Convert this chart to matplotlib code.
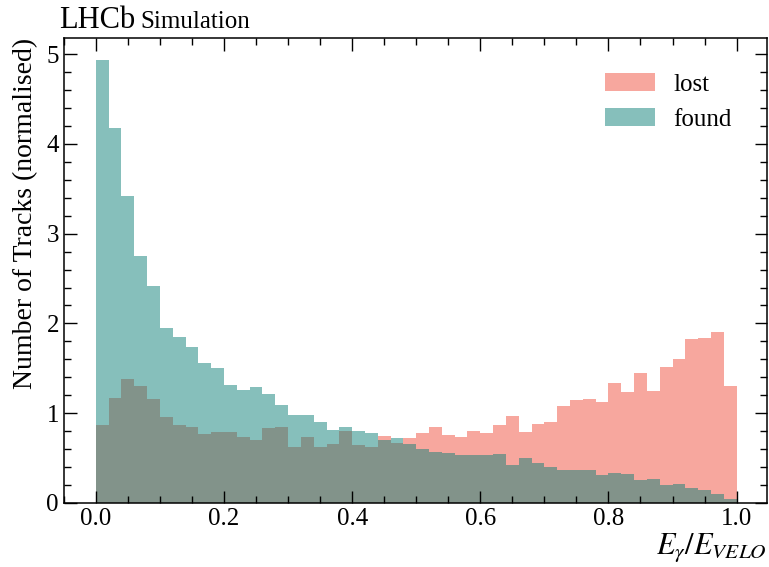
import matplotlib
matplotlib.use("Agg")
import matplotlib.pyplot as plt
import numpy as np

# bin contents (50 bins over [0, 1])
bin_edges = np.linspace(0, 1, 51)

lost = [0.87, 1.17, 1.38, 1.30, 1.16, 0.96, 0.87, 0.85, 0.77, 0.79,
        0.79, 0.74, 0.70, 0.84, 0.85, 0.62, 0.73, 0.62, 0.66, 0.80,
        0.65, 0.62, 0.75, 0.67, 0.72, 0.78, 0.85, 0.76, 0.73, 0.80,
        0.78, 0.87, 0.97, 0.79, 0.88, 0.90, 1.08, 1.15, 1.16, 1.13,
        1.34, 1.24, 1.45, 1.25, 1.51, 1.60, 1.83, 1.84, 1.90, 1.30]

found = [4.93, 4.18, 3.42, 2.75, 2.42, 1.95, 1.85, 1.74, 1.56, 1.50,
         1.31, 1.26, 1.29, 1.21, 1.09, 0.98, 0.98, 0.90, 0.81, 0.85,
         0.80, 0.78, 0.70, 0.72, 0.66, 0.60, 0.57, 0.56, 0.53, 0.53,
         0.53, 0.55, 0.42, 0.50, 0.45, 0.40, 0.37, 0.37, 0.37, 0.31,
         0.33, 0.32, 0.26, 0.27, 0.20, 0.21, 0.17, 0.14, 0.10, 0.04]

plt.rcParams['font.family'] = ['Liberation Serif', 'DejaVu Serif']
plt.rcParams['mathtext.fontset'] = 'stix'
plt.rcParams['xtick.direction'] = 'in'
plt.rcParams['ytick.direction'] = 'in'
plt.rcParams['xtick.top'] = True
plt.rcParams['ytick.right'] = True
plt.rcParams['xtick.minor.visible'] = True
plt.rcParams['ytick.minor.visible'] = True

fig = plt.figure(figsize=(7.69, 5.67), dpi=100)
ax = fig.add_axes([0.083, 0.113, 0.914, 0.820])

ax.stairs(lost, bin_edges, fill=True, color='#f0503e', alpha=0.5, label='lost')
ax.stairs(found, bin_edges, fill=True, color='#0f8078', alpha=0.5, label='found')

ax.set_xlim(-0.05, 1.047)
ax.set_ylim(0, 5.18)
ax.set_xticks([0.0, 0.2, 0.4, 0.6, 0.8, 1.0])
ax.xaxis.set_minor_locator(matplotlib.ticker.MultipleLocator(0.05))
ax.yaxis.set_minor_locator(matplotlib.ticker.MultipleLocator(0.2))
ax.tick_params(which='major', length=9, width=1.0, labelsize=18)
ax.tick_params(which='minor', length=5, width=1.0)
for s in ax.spines.values():
    s.set_linewidth(1.1)

ax.set_xlabel(r'$E_{\gamma}/E_{VELO}$', fontsize=22, loc='right', labelpad=1)
ax.set_ylabel('Number of Tracks (normalised)', fontsize=20, loc='top', labelpad=6)

ax.legend(loc='upper right', frameon=False, fontsize=18,
          handlelength=2.0, handleheight=0.72, handletextpad=0.75,
          borderaxespad=1.0)

t = ax.text(-0.006, 1.021, 'LHCb', transform=ax.transAxes, fontsize=22, va='baseline')
fig.canvas.draw()
bb = t.get_window_extent().transformed(ax.transAxes.inverted())
ax.text(bb.x1 + 0.006, 1.021, 'Simulation', transform=ax.transAxes,
        fontsize=18, va='baseline')

fig.savefig('out.png', dpi=100)
